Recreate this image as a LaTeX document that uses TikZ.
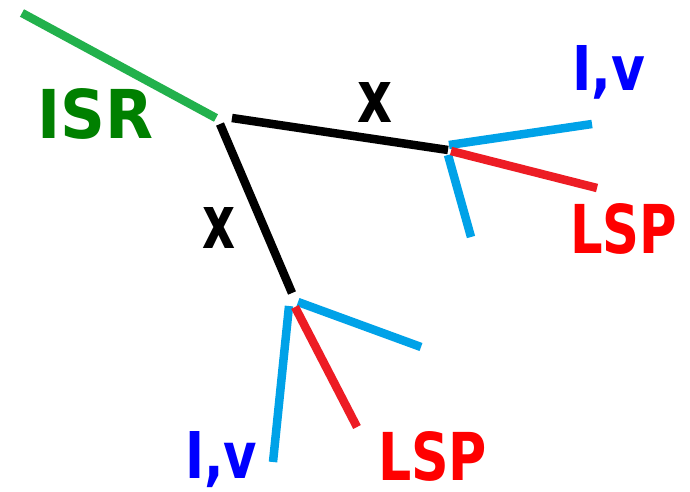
\documentclass[tikz,border=0pt]{standalone}
\usepackage{fontspec}
\setmainfont{DejaVu Sans}
\usepackage{graphicx}
\definecolor{lgreen}{RGB}{34,177,76}
\definecolor{tgreen}{RGB}{0,128,0}
\definecolor{lblue}{RGB}{0,162,232}
\definecolor{lred}{RGB}{237,28,36}
\definecolor{tred}{RGB}{255,0,0}
\definecolor{tblue}{RGB}{0,0,255}
\begin{document}
\begin{tikzpicture}[x=1pt,y=-1pt,
  edge/.style={line width=8.5pt},
  lbl/.style={anchor=north west, inner sep=0pt, font=\bfseries}]
\useasboundingbox[fill=white] (0,0) rectangle (690,491);
% coordinates
\coordinate (g1) at (22,13);
\coordinate (g2) at (216,118);
\coordinate (bA) at (232,118);
\coordinate (hubU) at (448,150);
\coordinate (bC) at (220,124);
\coordinate (hubL) at (292,293);
\coordinate (uB1s) at (449,145); \coordinate (uB1e) at (592,124);
\coordinate (uRs) at (451,151);  \coordinate (uRe) at (597,188);
\coordinate (uB2s) at (448,155); \coordinate (uB2e) at (471,237);
\coordinate (lB1s) at (298,302); \coordinate (lB1e) at (421,347);
\coordinate (lRs) at (295,307);  \coordinate (lRe) at (357,427);
\coordinate (lB2s) at (289,306); \coordinate (lB2e) at (273,462);
% lines
\draw[edge, lgreen] (g1) -- (g2);
\draw[edge, black] (bA) -- (hubU);
\draw[edge, black] (bC) -- (hubL);
\draw[edge, lblue] (uB1s) -- (uB1e);
\draw[edge, lblue] (uB2s) -- (uB2e);
\draw[edge, lred] (uRs) -- (uRe);
\draw[edge, lblue] (lB1s) -- (lB1e);
\draw[edge, lblue] (lB2s) -- (lB2e);
\draw[edge, lred] (lRs) -- (lRe);
% labels
\node[lbl, text=tgreen] (isr) at (37,88) {\resizebox{116pt}{50pt}{ISR}};
\node[lbl, text=black] (x1) at (357,82) {\resizebox{35pt}{40pt}{x}};
\node[lbl, text=black] (x2) at (202,207) {\resizebox{33pt}{41pt}{x}};
\node[lbl, text=tblue] (iv1) at (572,45) {\resizebox{73pt}{45pt}{I,v}};
\node[lbl, text=tred] (lsp1) at (570,203) {\resizebox{107pt}{50pt}{LSP}};
\node[lbl, text=tblue] (iv2) at (185,431) {\resizebox{72pt}{47pt}{I,v}};
\node[lbl, text=tred] (lsp2) at (378,431) {\resizebox{109pt}{49pt}{LSP}};
\end{tikzpicture}
\end{document}
